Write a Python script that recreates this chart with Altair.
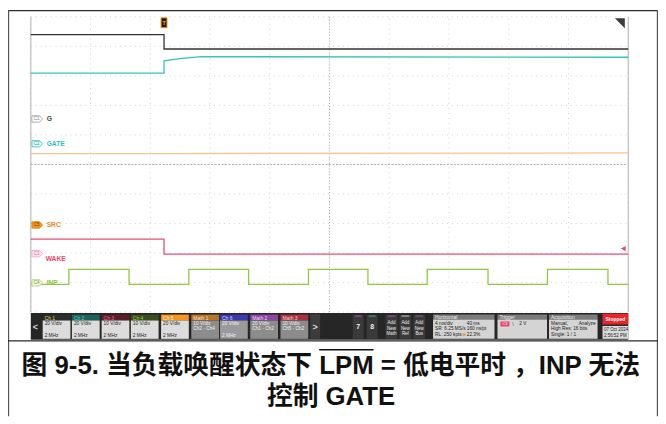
import altair as alt
import pandas as pd

# ---------------- values ----------------
# time axis: 4 ms/div, 10 div, trigger position 22.3 %  -> -8.92 ms .. 31.08 ms
T_LEFT, T_RIGHT = -8.92, 31.08

channels = ["G", "GATE", "SRC", "WAKE", "INP"]
channel_colors = ["#333333", "#35c3bb", "#f8c48c", "#ea4f72", "#93c83e"]

# vertical positions in screen divisions (0 = centre line, +5 = top)
g_t = [-8.92, 0.0, 0.0, 31.08]
g_v = [4.40, 4.40, 3.91, 3.91]

gate_t = [-8.92, 0.0, 0.0, 1.2, 2.5, 31.08]
gate_v = [3.09, 3.09, 3.51, 3.59, 3.65, 3.63]

src_t = [-8.92, 0.0, 31.08]
src_v = [0.37, 0.37, 0.39]

wake_t = [-8.92, 0.0, 0.0, 31.08]
wake_v = [-2.53, -2.53, -3.04, -3.04]

inp_edges = [-6.37, -2.34, 1.66, 5.66, 9.67, 13.65, 17.62, 21.69, 25.67, 29.72]
inp_low, inp_high = -4.06, -3.55

badge_names = ["C1", "C2", "C5", "C3", "C4"]
badge_levels = [1.54, 0.70, -2.05, -3.02, -4.01]
label_levels = [1.54, 0.70, -2.05, -3.20, -4.01]
trigger_level = -2.85

box_titles = ["Ch 1", "Ch 2", "Ch 3", "Ch 4", "Ch 5", "Math 1", "Ch 6", "Math 2", "Math 3"]
box_scales = ["20 V/div", "20 V/div", "10 V/div", "10 V/div", "20 V/div",
              "10 V/div", "20 V/div", "20 V/div", "10 V/div"]
box_sources = ["", "", "", "", "", "Ch2 - Ch4", "", "Ch1 - Ch2", "Ch5 - Ch2"]
box_bw = ["2 MHz", "2 MHz", "2 MHz", "2 MHz", "2 MHz", "", "2 MHz", "", ""]

caption_line1 = ["图 9-5. 当负载唤醒状态下", "LPM", "= 低电平时 ，INP 无法"]
caption_line2 = "控制 GATE"

# ---------------- layout helpers ----------------
def R(v):
    return v - 8  # reference pixel -> chart pixel (page margin)

W, H = 656, 410
xs = alt.Scale(domain=[T_LEFT, T_RIGHT], range=[R(31), R(634)])
ys = alt.Scale(domain=[-5, 5], range=[R(313), R(15)])
SANS = "Liberation Sans"
CAP_FONT = "Liberation Sans, Noto Sans CJK SC"

# ---------------- waveform table ----------------
rows = []
def add(ch, ts, vs):
    for i, (t, v) in enumerate(zip(ts, vs)):
        rows.append({"ch": ch, "t": t, "v": v, "i": i})

add("G", g_t, g_v)
add("GATE", gate_t, gate_v)
add("SRC", src_t, src_v)
add("WAKE", wake_t, wake_v)
inp_t, inp_v = [T_LEFT], [inp_low]
level = inp_low
for e in inp_edges:
    inp_t.append(e); inp_v.append(level)
    level = inp_high if level == inp_low else inp_low
    inp_t.append(e); inp_v.append(level)
inp_t.append(T_RIGHT); inp_v.append(level)
add("INP", inp_t, inp_v)
waves = pd.DataFrame(rows)

layers = []

def rect_layer(rects, **mk):
    df = pd.DataFrame(rects, columns=["x", "x2", "y", "y2", "fill"])
    for c in ["x", "x2", "y", "y2"]:
        df[c] = df[c].map(R)
    return alt.Chart(df).mark_rect(**mk).encode(
        x=alt.X("x:Q", scale=None, axis=None), x2="x2:Q",
        y=alt.Y("y:Q", scale=None, axis=None), y2="y2:Q",
        fill=alt.Fill("fill:N", scale=None))

def text_layer(trows, align="left", weight="normal", font=SANS, baseline="middle"):
    df = pd.DataFrame(trows, columns=["x", "y", "text", "color", "size"])
    df["x"] = df["x"].map(R)
    df["y"] = df["y"].map(R)
    return alt.Chart(df).mark_text(align=align, baseline=baseline, fontWeight=weight, font=font).encode(
        x=alt.X("x:Q", scale=None, axis=None),
        y=alt.Y("y:Q", scale=None, axis=None),
        text="text:N",
        color=alt.Color("color:N", scale=None),
        size=alt.Size("size:Q", scale=None))

# ---- grid ----
div_t = [T_LEFT + 4 * k for k in range(11)]
div_v = [-5 + k for k in range(11)]
vgrid = pd.DataFrame({"t": div_t, "a": -5, "b": 5})
hgrid = pd.DataFrame({"v": div_v, "a": T_LEFT, "b": T_RIGHT})
layers.append(alt.Chart(vgrid).mark_rule(color="#d2d2d2", strokeDash=[1, 4], strokeWidth=1).encode(
    x=alt.X("t:Q", scale=xs, axis=None), y=alt.Y("a:Q", scale=ys, axis=None), y2="b:Q"))
layers.append(alt.Chart(hgrid).mark_rule(color="#d2d2d2", strokeDash=[1, 4], strokeWidth=1).encode(
    y=alt.Y("v:Q", scale=ys, axis=None), x=alt.X("a:Q", scale=xs, axis=None), x2="b:Q"))
centre = pd.DataFrame({"t": [T_LEFT + 20], "v": [0], "a": [-5], "b": [5], "ta": [T_LEFT], "tb": [T_RIGHT - 0.2]})
layers.append(alt.Chart(centre).mark_rule(color="#a8a8a8", strokeDash=[1, 2], strokeWidth=1).encode(
    x=alt.X("t:Q", scale=xs, axis=None), y=alt.Y("a:Q", scale=ys, axis=None), y2="b:Q"))
layers.append(alt.Chart(centre).mark_rule(color="#9a9a9a", strokeDash=[2, 1.5], strokeWidth=0.8).encode(
    y=alt.Y("v:Q", scale=ys, axis=None), x=alt.X("ta:Q", scale=xs, axis=None), x2="tb:Q"))
sides = pd.DataFrame({"t": [T_LEFT, T_RIGHT], "a": [-5, -5], "b": [5, 5]})
layers.append(alt.Chart(sides).mark_rule(color="#bdbdbd", strokeWidth=1.2).encode(
    x=alt.X("t:Q", scale=xs, axis=None), y=alt.Y("a:Q", scale=ys, axis=None), y2="b:Q"))

# ---- waveforms ----
layers.append(alt.Chart(waves).mark_line(strokeWidth=1.3, interpolate="linear").encode(
    x=alt.X("t:Q", scale=xs, axis=None),
    y=alt.Y("v:Q", scale=ys, axis=None),
    color=alt.Color("ch:N", scale=alt.Scale(domain=channels, range=channel_colors), legend=None),
    detail="ch:N",
    order="i:Q"))

# ---- markers ----
tag_path = "M-1,-0.6L0.45,-0.6L1,0L0.45,0.6L-1,0.6Z"
badges = pd.DataFrame({
    "name": badge_names,
    "lvl": badge_levels,
    "fill": ["#ffffff", "#e4f7f6", "#f7941d", "#fde6ec", "#eef6e2"],
    "stroke": ["#9a9a9a", "#35c3bb", "#e07d10", "#f3a3b8", "#a9d273"],
    "tc": ["#777777", "#2aa9a1", "#7a3a00", "#e06a88", "#6a9a30"],
})
layers.append(alt.Chart(badges).mark_point(shape=tag_path, size=115, filled=True, strokeWidth=0.8, opacity=1).encode(
    x=alt.value(R(37.5)), y=alt.Y("lvl:Q", scale=ys, axis=None),
    fill=alt.Fill("fill:N", scale=None), stroke=alt.Stroke("stroke:N", scale=None)))
layers.append(alt.Chart(badges).mark_text(fontSize=4.5, font=SANS, align="center", baseline="middle").encode(
    x=alt.value(R(36.8)), y=alt.Y("lvl:Q", scale=ys, axis=None), text="name:N",
    color=alt.Color("tc:N", scale=None)))
labels = pd.DataFrame({
    "name": channels, "lvl": label_levels,
    "col": ["#444444", "#35bdb5", "#e8891e", "#e0486c", "#8cc23a"],
    "x": [R(47), R(47), R(47), R(46), R(47)],
})
layers.append(alt.Chart(labels).mark_text(fontSize=6.8, font=SANS, fontWeight="bold", align="left", baseline="middle").encode(
    x=alt.X("x:Q", scale=None, axis=None), y=alt.Y("lvl:Q", scale=ys, axis=None), text="name:N",
    color=alt.Color("col:N", scale=None)))

trig = pd.DataFrame({"t": [0.0], "s": ["T"]})
layers.append(alt.Chart(trig).mark_point(shape="M-0.6,-1L0.6,-1L0.6,1L-0.6,1Z", size=100, filled=True,
                                          fill="#1e1e1e", stroke="#f7941d", strokeWidth=1, opacity=1).encode(
    x=alt.X("t:Q", scale=xs, axis=None), y=alt.value(R(21))))
layers.append(alt.Chart(trig).mark_text(fontSize=6, fontWeight="bold", font=SANS, color="#f7941d",
                                         align="center", baseline="middle").encode(
    x=alt.X("t:Q", scale=xs, axis=None), y=alt.value(R(21.5)), text="s:N"))
layers.append(alt.Chart(trig).mark_point(shape="M-1,-1L1,-1L1,1Z", size=100, filled=True,
                                          color="#3c3c3c", opacity=1).encode(
    x=alt.value(R(625.5)), y=alt.value(R(21.5))))
tl = pd.DataFrame({"v": [trigger_level]})
layers.append(alt.Chart(tl).mark_point(shape="triangle-left", size=30, filled=True, color="#e8436a", opacity=1).encode(
    x=alt.value(R(629)), y=alt.Y("v:Q", scale=ys, axis=None)))

# ---- bottom control bar ----
box_x = [43, 72.5, 102.5, 132, 162.5, 193, 222, 252.5, 283]
hdr_fill = ["#2e2e2e", "#1f5f5c", "#5c1f2a", "#3b4d1c", "#f7941d", "#b8742a", "#3b3bb0", "#8b45a5", "#a8323f"]
hdr_txt = ["#e8d84a", "#4fd6cc", "#f07090", "#9fd050", "#fff3e0", "#f5e0c8", "#d8d8ff", "#f0d8f8", "#f8d0d8"]
body_fill = ["#dcdcdc"] * 5 + ["#8c8c8c", "#9a9a9a", "#8c8c8c", "#8c8c8c"]
body_txt = ["#1a1a1a"] * 5 + ["#f2f2f2"] * 4

rects = [(31, 634, 314, 341, "#262626"), (313, 323, 315, 340, "#3c3c3c")]
for i, x0 in enumerate(box_x):
    rects.append((x0, x0 + 28, 315.5, 321.5, hdr_fill[i]))
    rects.append((x0, x0 + 28, 321.5, 340, body_fill[i]))
for x0, acc in [(356, "#a855c8"), (370, "#3fb37a")]:
    rects.append((x0, x0 + 11, 316, 340, "#3a3a3a"))
    rects.append((x0 + 2, x0 + 9, 316.5, 317.5, acc))
for x0, acc in [(389, "#9b59b6"), (403, "#cfcfcf"), (417, "#9b59b6")]:
    rects.append((x0, x0 + 12, 316, 340, "#3a3a3a"))
    rects.append((x0 + 2, x0 + 10, 316.5, 317.5, acc))
for x0, x1 in [(437, 499), (502, 552), (554, 603)]:
    rects.append((x0, x1, 315.5, 320.5, "#7b7b7b"))
    rects.append((x0, x1, 320.5, 340, "#d4d4d4"))
rects += [(505, 514, 322.5, 327.5, "#e8436a"), (467, 469.5, 334.5, 337, "#f7941d"),
          (608, 634, 314.5, 325.5, "#e8262a"), (608, 634, 327, 340, "#dadada")]
rects += [(8, 664, 8, 9.5, "#2a2a2a"), (8, 9.2, 8, 418, "#555555"),
          (662.8, 664, 8, 418, "#555555"), (8, 664, 341.5, 342.7, "#2a2a2a")]
layers.append(rect_layer(rects))

tl_rows, tc_rows, tr_rows, tb_rows = [], [], [], []
for i, x0 in enumerate(box_x):
    tl_rows.append((x0 + 2, 318.6, box_titles[i], hdr_txt[i], 5))
    tl_rows.append((x0 + 2, 325, box_scales[i], body_txt[i], 4.8))
    if box_sources[i]:
        tl_rows.append((x0 + 2, 330.5, box_sources[i], body_txt[i], 4.8))
    if box_bw[i]:
        tl_rows.append((x0 + 2, 337, box_bw[i], body_txt[i], 4.8))
tl_rows += [
    (439, 318, "Horizontal", "#eeeeee", 5), (439, 324.7, "4 ms/div", "#1a1a1a", 4.8),
    (471, 324.7, "40 ms", "#1a1a1a", 4.8), (439, 330.4, "SR: 6.25 MS/s", "#1a1a1a", 4.8),
    (471, 330.4, "160 ns/pt", "#1a1a1a", 4.8), (439, 336.2, "RL: 250 kpts", "#1a1a1a", 4.8),
    (471, 336.2, "22.3%", "#1a1a1a", 4.8),
    (504, 318, "Trigger", "#eeeeee", 5), (517, 325, "\\", "#555555", 5.5), (524, 325, "2 V", "#1a1a1a", 4.8),
    (556, 318, "Acquisition", "#eeeeee", 5), (556, 324.7, "Manual,", "#1a1a1a", 4.8),
    (556, 330.4, "High Res: 16 bits", "#1a1a1a", 4.8), (556, 336.2, "Single: 1 / 1", "#1a1a1a", 4.8),
    (609.5, 331.5, "07 Oct 2024", "#1a1a1a", 4.5), (609.5, 337, "2:56:52 PM", "#1a1a1a", 4.5),
]
tr_rows += [(601, 324.7, "Analyze", "#1a1a1a", 4.8)]
for x0, word in [(395, "Math"), (409, "Ref"), (423, "Bus")]:
    tc_rows += [(x0, 324.5, "Add", "#eeeeee", 4.5), (x0, 330, "New", "#eeeeee", 4.5), (x0, 335.5, word, "#eeeeee", 4.5)]
tc_rows += [(509.5, 325.2, "C3", "#ffffff", 4)]
tb_rows += [(35.5, 328, "<", "#d8d8d8", 9), (318, 328, ">", "#d8d8d8", 9),
            (361.5, 328.5, "7", "#f0f0f0", 7), (375.5, 328.5, "8", "#f0f0f0", 7),
            (621, 320.2, "Stopped", "#ffffff", 5)]
layers.append(text_layer(tl_rows, "left"))
layers.append(text_layer(tr_rows, "right"))
layers.append(text_layer(tc_rows, "center"))
layers.append(text_layer(tb_rows, "center", "bold"))

# ---- caption ----
f = 26
cx = R(334)
w_a = (1 + 0.278 + 1.723 + 0.278 + 8) * f    # "图 9-5. 当负载唤醒状态下"
w_l = 2.111 * f                               # "LPM"
w_c = (0.584 + 0.278 + 4 + 0.278 + 1 + 1.667 + 0.278 + 2) * f
sp = 0.278 * f
total = w_a + sp + w_l + sp + w_c
x_left = cx - total / 2
xL = x_left + w_a + sp
cap = pd.DataFrame({
    "x": [xL - sp, xL + w_l / 2, xL + w_l + sp],
    "y": [R(375)] * 3,
    "text": caption_line1,
})
for idx, al in [(0, "right"), (1, "center"), (2, "left")]:
    layers.append(alt.Chart(cap.iloc[[idx]]).mark_text(align=al, baseline="alphabetic", font=CAP_FONT,
                                                      fontWeight="bold", fontSize=f, color="#111111").encode(
        x=alt.X("x:Q", scale=None, axis=None), y=alt.Y("y:Q", scale=None, axis=None), text="text:N"))
cap2 = pd.DataFrame({"x": [cx], "y": [R(407)], "text": [caption_line2]})
layers.append(alt.Chart(cap2).mark_text(align="center", baseline="alphabetic", font=CAP_FONT,
                                        fontWeight="bold", fontSize=f, color="#111111").encode(
    x=alt.X("x:Q", scale=None, axis=None), y=alt.Y("y:Q", scale=None, axis=None), text="text:N"))
ov = pd.DataFrame({"a": [xL], "b": [xL + w_l], "y": [R(351)]})
layers.append(alt.Chart(ov).mark_rule(color="#111111", strokeWidth=1.6).encode(
    x=alt.X("a:Q", scale=None, axis=None), x2="b:Q", y=alt.Y("y:Q", scale=None, axis=None)))

chart = alt.layer(*layers).properties(
    width=W, height=H, padding=0, background="white",
    autosize=alt.AutoSizeParams(type="none"),
).configure_view(stroke=None)

chart.save("out.html", embed_options={"renderer": "svg", "actions": False})
